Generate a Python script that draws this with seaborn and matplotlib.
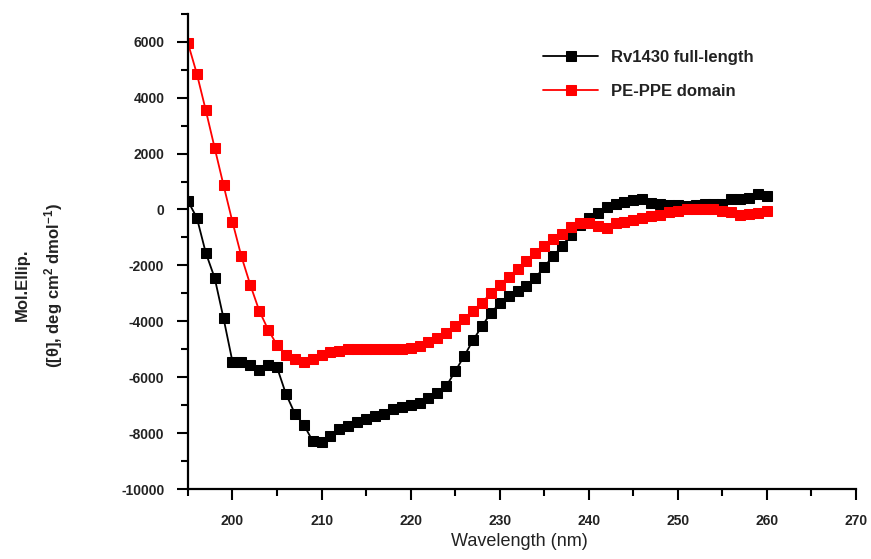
import numpy as np
import pandas as pd
import matplotlib
matplotlib.use("Agg")
import matplotlib.pyplot as plt
from matplotlib.ticker import MultipleLocator
import seaborn as sns

# ---------------- data ----------------
wavelength = list(range(195, 261))

rv1430_full = [
    300, -300, -1550, -2450, -3900, -5450, -5450, -5550, -5750, -5550,   # 195-204
    -5650, -6600, -7300, -7700, -8280, -8330, -8100, -7850, -7750, -7600,  # 205-214
    -7500, -7400, -7300, -7150, -7050, -6980, -6930, -6750, -6570, -6320,  # 215-224
    -5790, -5250, -4680, -4180, -3700, -3360, -3110, -2900, -2720, -2460,  # 225-234
    -2040, -1680, -1300, -900, -560, -300, -140, 80, 180, 250,             # 235-244
    330, 380, 220, 180, 170, 160, 140, 160, 180, 190,                      # 245-254
    210, 360, 380, 420, 540, 470                                           # 255-260
]

pe_ppe_domain = [
    5950, 4850, 3550, 2200, 860, -450, -1680, -2700, -3620, -4300,        # 195-204
    -4850, -5200, -5350, -5450, -5350, -5200, -5100, -5050, -5000, -5000,  # 205-214
    -5000, -5000, -5000, -5000, -5000, -4950, -4880, -4750, -4600, -4430,  # 215-224
    -4180, -3930, -3620, -3330, -3000, -2700, -2400, -2130, -1860, -1570,  # 225-234
    -1320, -1040, -860, -640, -470, -500, -600, -680, -500, -430,          # 235-244
    -380, -300, -220, -180, -100, -40, 0, 0, 0, 0,                         # 245-254
    -40, -80, -180, -170, -140, -70                                        # 255-260
]

series_names = ["Rv1430 full-length", "PE-PPE domain"]
series_colors = ["#000000", "#ff0000"]

x_major_ticks = list(range(200, 271, 10))
y_major_ticks = list(range(-10000, 6001, 2000))

# ---------------- style ----------------
sns.set_theme(style="ticks")
plt.rcParams["font.family"] = ["Liberation Sans", "DejaVu Sans"]
plt.rcParams["axes.unicode_minus"] = False
plt.rcParams["mathtext.fontset"] = "custom"
plt.rcParams["mathtext.rm"] = "Liberation Sans:bold"
plt.rcParams["mathtext.it"] = "Liberation Sans:bold"
plt.rcParams["mathtext.bf"] = "Liberation Sans:bold"
plt.rcParams["mathtext.default"] = "rm"

fig = plt.figure(figsize=(8.71, 5.59), dpi=100)
ax = fig.add_axes([0.2158, 0.1252, 0.9828 - 0.2158, 0.9753 - 0.1252])

df = pd.DataFrame({
    "wavelength": wavelength * 2,
    "value": rv1430_full + pe_ppe_domain,
    "series": [series_names[0]] * len(wavelength) + [series_names[1]] * len(wavelength),
})

for name, col in zip(series_names, series_colors):
    sub = df[df["series"] == name]
    sns.lineplot(data=sub, x="wavelength", y="value", ax=ax, color=col,
                 marker="s", markersize=6.5, markeredgecolor=col,
                 markerfacecolor=col, linewidth=1.3, label=name,
                 estimator=None, sort=False)

ax.set_xlim(195, 270)
ax.set_ylim(-10000, 7000)
ax.set_xticks(x_major_ticks)
ax.set_yticks(y_major_ticks)
ax.xaxis.set_minor_locator(MultipleLocator(5))
ax.yaxis.set_minor_locator(MultipleLocator(1000))

for s in ["top", "right"]:
    ax.spines[s].set_visible(False)
for s in ["left", "bottom"]:
    ax.spines[s].set_linewidth(1.6)
    ax.spines[s].set_color("black")

ax.tick_params(axis="both", which="major", direction="out", length=8, width=1.5,
               color="black", labelsize=10, labelcolor="#222222")
ax.tick_params(axis="both", which="minor", direction="out", length=5, width=1.5,
               color="black")
ax.tick_params(axis="y", which="major", pad=9)
ax.tick_params(axis="x", which="major", pad=10)
for lab in ax.get_xticklabels() + ax.get_yticklabels():
    lab.set_fontweight("bold")

ax.set_xlabel("")
ax.set_ylabel("")
ax.grid(False)

fig.text(0.5965, 0.016, "Wavelength (nm)", ha="center", va="bottom",
         fontsize=13, color="#222222")
fig.text(0.046, 1 - 285 / 559, "Mol.Ellip.\n([θ], deg cm$^{2}$ dmol$^{-1}$)",
         rotation=90, ha="center", va="center", multialignment="center",
         fontsize=12, fontweight="bold", color="#222222", linespacing=1.7)

leg = ax.legend(loc="upper left", bbox_to_anchor=(543 / 871, 1 - 50 / 559),
                bbox_transform=fig.transFigure, frameon=False, fontsize=12,
                handlelength=3.3, handletextpad=0.8, labelspacing=1.15,
                borderpad=0, borderaxespad=0, numpoints=1)
for t in leg.get_texts():
    t.set_color("#222222")
    t.set_fontweight("bold")

fig.savefig("out.png", dpi=100)
